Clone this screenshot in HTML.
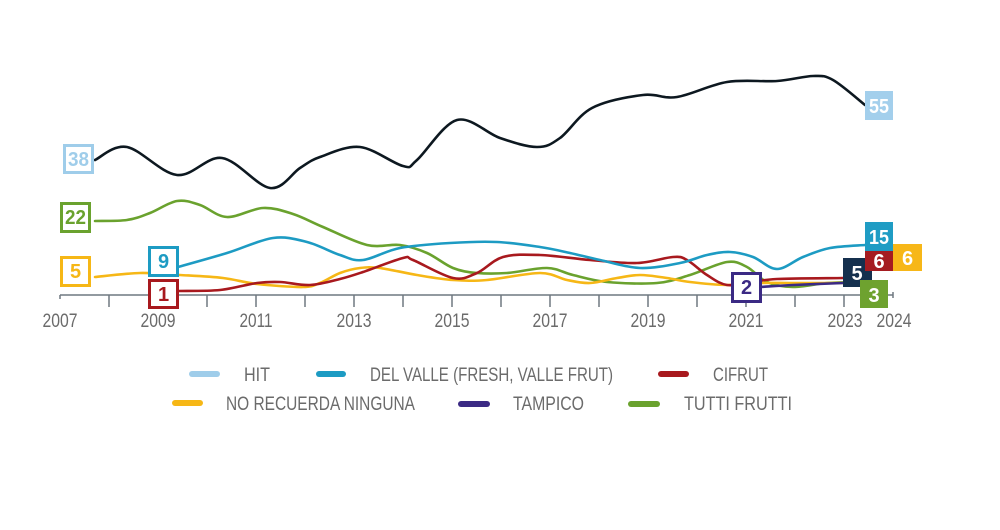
<!DOCTYPE html>
<html><head><meta charset="utf-8"><style>
html,body{margin:0;padding:0;background:#fff;}
svg{display:block;}
.t{font-family:"Liberation Sans Narrow","Liberation Sans",sans-serif;fill:#6b6b6b;font-size:19px;}
.b{font-family:"Liberation Sans Narrow","Liberation Sans",sans-serif;font-weight:bold;font-size:20px;text-anchor:middle;}
.ln{fill:none;stroke-width:2.6;stroke-linecap:round;stroke-linejoin:round;}
</style></head><body>
<svg width="1000" height="530" viewBox="0 0 1000 530" xmlns="http://www.w3.org/2000/svg">
<rect width="1000" height="530" fill="#fff"/>
<!-- axis -->
<g stroke="#6f7880" stroke-width="1.5">
<line x1="60" y1="295" x2="893" y2="295"/>
<line x1="60" y1="295" x2="60" y2="299"/>
<line x1="109" y1="295" x2="109" y2="307"/><line x1="158" y1="295" x2="158" y2="307"/>
<line x1="207" y1="295" x2="207" y2="307"/><line x1="256" y1="295" x2="256" y2="307"/>
<line x1="305" y1="295" x2="305" y2="307"/><line x1="354" y1="295" x2="354" y2="307"/>
<line x1="403" y1="295" x2="403" y2="307"/><line x1="452" y1="295" x2="452" y2="307"/>
<line x1="501" y1="295" x2="501" y2="307"/><line x1="550" y1="295" x2="550" y2="307"/>
<line x1="599" y1="295" x2="599" y2="307"/><line x1="648" y1="295" x2="648" y2="307"/>
<line x1="697" y1="295" x2="697" y2="307"/><line x1="746" y1="295" x2="746" y2="307"/>
<line x1="795" y1="295" x2="795" y2="307"/><line x1="844" y1="295" x2="844" y2="307"/>
<line x1="893" y1="292" x2="893" y2="298"/>
</g>
<g class="t" text-anchor="middle">
<text x="60" y="327" textLength="35" lengthAdjust="spacingAndGlyphs">2007</text>
<text x="158" y="327" textLength="35" lengthAdjust="spacingAndGlyphs">2009</text>
<text x="256" y="327" textLength="33" lengthAdjust="spacingAndGlyphs">2011</text>
<text x="354" y="327" textLength="35" lengthAdjust="spacingAndGlyphs">2013</text>
<text x="452" y="327" textLength="35" lengthAdjust="spacingAndGlyphs">2015</text>
<text x="550" y="327" textLength="35" lengthAdjust="spacingAndGlyphs">2017</text>
<text x="648" y="327" textLength="35" lengthAdjust="spacingAndGlyphs">2019</text>
<text x="746" y="327" textLength="35" lengthAdjust="spacingAndGlyphs">2021</text>
<text x="845" y="327" textLength="35" lengthAdjust="spacingAndGlyphs">2023</text>
<text x="894" y="327" textLength="35" lengthAdjust="spacingAndGlyphs">2024</text>
</g>
<!-- series -->
<path class="ln sm" stroke="#6aa22e" d="M95,221 L127,220 L150,213 L177,201 L200,205 L227,217 L263,208 L293,214 L323,227 L367,245 L400,245 L427,253 L453,268 L477,273 L507,273 L547,268 L573,275 L607,282 L657,283 L690,275 L727,262 L747,267 L767,282 L793,287 L827,283 L860,282"/>
<path class="ln sm" stroke="#f6b716" d="M95,277 L140,273 L180,275 L223,278 L257,284 L303,287 L320,283 L340,273 L360,268 L380,268 L417,275 L453,280 L487,280 L540,273 L567,280 L590,283 L617,278 L640,275 L667,278 L690,282 L727,285 L760,283 L793,283 L843,283"/>
<path class="ln sm" stroke="#3b2a84" d="M760,287 L793,285 L843,283"/>
<path class="ln sm" stroke="#a8191e" d="M178,291 L220,290 L257,283 L280,282 L310,285 L340,279 L363,272 L403,258 L413,260 L453,278 L477,273 L503,257 L540,255 L590,260 L637,263 L673,257 L687,260 L707,275 L727,285 L753,282 L777,279 L843,278"/>
<path class="ln sm" stroke="#1d9bc3" d="M178,267 L227,253 L273,238 L307,242 L340,255 L363,260 L400,248 L450,243 L497,242 L540,247 L570,253 L600,260 L640,268 L680,263 L707,255 L730,252 L753,257 L777,269 L803,257 L830,248 L865,245"/>
<path class="ln sm" stroke="#0d1820" d="M95,160 L127,147 L177,175 L222,158 L270,188 L300,168 L320,157 L360,147 L403,166 L417,160 L457,120 L500,138 L537,147 L560,138 L592,108 L643,95 L677,97 L727,82 L777,81 L813,76 L833,80 L865,105"/>
<!-- outline boxes -->
<g stroke-width="3" fill="#fff">
<rect x="64.5" y="145.5" width="28" height="27" stroke="#9fcdea"/>
<rect x="61.5" y="203.5" width="28" height="28" stroke="#6aa22e"/>
<rect x="61.5" y="257.5" width="28" height="28" stroke="#f6b716"/>
<rect x="149.5" y="247.5" width="28" height="28" stroke="#1d9bc3"/>
<rect x="149.5" y="280.5" width="28" height="27" stroke="#a8191e"/>
<rect x="732.5" y="273.5" width="28" height="28" stroke="#3b2a84"/>
</g>
<g class="b">
<text x="78.5" y="166" fill="#9fcdea" textLength="21" lengthAdjust="spacingAndGlyphs">38</text>
<text x="75.5" y="224" fill="#6aa22e" textLength="21" lengthAdjust="spacingAndGlyphs">22</text>
<text x="75.5" y="278" fill="#f6b716">5</text>
<text x="163.5" y="268" fill="#1d9bc3">9</text>
<text x="163.5" y="301" fill="#a8191e">1</text>
<text x="746.5" y="294" fill="#3b2a84">2</text>
</g>
<!-- filled boxes -->
<rect x="865" y="91" width="28" height="29" fill="#a3cfec"/>
<rect x="865" y="222" width="28" height="29" fill="#1f9cc4"/>
<rect x="843" y="258" width="29" height="29" fill="#15304e"/>
<rect x="865" y="251" width="28" height="20" fill="#a51c21"/>
<rect x="893" y="244" width="29" height="27" fill="#f7b718"/>
<rect x="860" y="280" width="28" height="28" fill="#6ea22f"/>
<g class="b" fill="#fff">
<text x="879" y="113" textLength="20" lengthAdjust="spacingAndGlyphs">55</text>
<text x="879" y="244" textLength="20" lengthAdjust="spacingAndGlyphs">15</text>
<text x="857" y="280">5</text>
<text x="879" y="268">6</text>
<text x="907.5" y="265">6</text>
<text x="874" y="302">3</text>
</g>
<!-- legend -->
<g stroke-width="6" stroke-linecap="round">
<line x1="192" y1="374" x2="217" y2="374" stroke="#9fcdea"/>
<line x1="319" y1="374" x2="343" y2="374" stroke="#1d9bc3"/>
<line x1="661" y1="374" x2="686" y2="374" stroke="#a8191e"/>
<line x1="175" y1="403" x2="200" y2="403" stroke="#f6b716"/>
<line x1="461" y1="404" x2="487" y2="404" stroke="#3b2a84"/>
<line x1="631" y1="404" x2="657" y2="404" stroke="#6aa22e"/>
</g>
<g class="t">
<text x="244" y="381" textLength="26" lengthAdjust="spacingAndGlyphs">HIT</text>
<text x="370" y="381" textLength="243" lengthAdjust="spacingAndGlyphs">DEL VALLE (FRESH, VALLE FRUT)</text>
<text x="713" y="381" textLength="55" lengthAdjust="spacingAndGlyphs">CIFRUT</text>
<text x="226" y="410" textLength="189" lengthAdjust="spacingAndGlyphs">NO RECUERDA NINGUNA</text>
<text x="513" y="410" textLength="71" lengthAdjust="spacingAndGlyphs">TAMPICO</text>
<text x="684" y="410" textLength="108" lengthAdjust="spacingAndGlyphs">TUTTI FRUTTI</text>
</g>
</svg>
<script>
document.querySelectorAll('path.sm').forEach(function(p){
  var nums=p.getAttribute('d').match(/-?\d+(\.\d+)?/g).map(Number);
  var pts=[];for(var i=0;i<nums.length;i+=2)pts.push([nums[i],nums[i+1]]);
  if(pts.length<3)return;
  var d='M'+pts[0][0]+','+pts[0][1];
  for(var i=0;i<pts.length-1;i++){
    var p0=pts[i-1]||pts[i],p1=pts[i],p2=pts[i+1],p3=pts[i+2]||p2;
    var c1x=p1[0]+(p2[0]-p0[0])/6,c1y=p1[1]+(p2[1]-p0[1])/6;
    var c2x=p2[0]-(p3[0]-p1[0])/6,c2y=p2[1]-(p3[1]-p1[1])/6;
    d+=' C'+c1x.toFixed(1)+','+c1y.toFixed(1)+' '+c2x.toFixed(1)+','+c2y.toFixed(1)+' '+p2[0]+','+p2[1];
  }
  p.setAttribute('d',d);
});
</script>
</body></html>
